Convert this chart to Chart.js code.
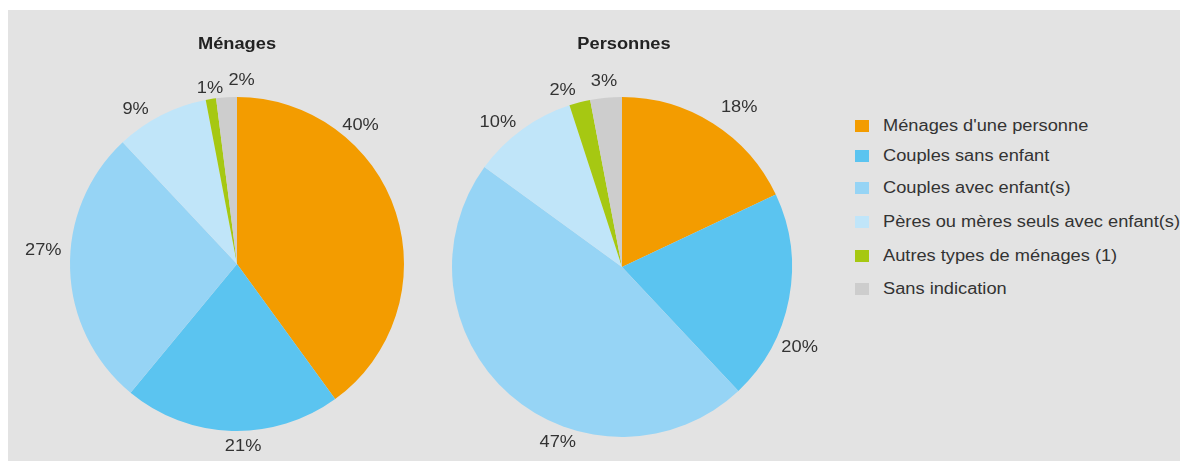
<!DOCTYPE html>
<html>
<head>
<meta charset="utf-8">
<script src="https://cdn.jsdelivr.net/npm/chart.js@4/dist/chart.umd.min.js"></script>
<style>
html,body{margin:0;padding:0;background:#ffffff;width:1180px;height:461px;overflow:hidden;font-family:"Liberation Sans",Arial,sans-serif;}
#bg{position:absolute;left:8px;top:10px;width:1172px;height:451px;background:#e3e3e3;}
canvas{position:absolute;}
.lg{position:absolute;left:855px;height:20px;white-space:nowrap;}
.lg .sw{position:absolute;left:0;top:4px;width:14px;height:12px;}
.lg .tx{position:absolute;left:28px;top:0;font-size:16px;line-height:20px;color:#333;transform:scaleX(1.14);transform-origin:left center;}
</style>
</head>
<body>
<div id="bg"></div>
<canvas id="c1" width="474" height="450" style="left:0px;top:10px;width:474px;height:450px"></canvas>
<canvas id="c2" width="400" height="450" style="left:422px;top:10px;width:400px;height:450px"></canvas>
<div id="legend"></div>
<script>
// ---- data ----
const categories = [
  "Ménages d'une personne",
  "Couples sans enfant",
  "Couples avec enfant(s)",
  "Pères ou mères seuls avec enfant(s)",
  "Autres types de ménages (1)",
  "Sans indication"
];
const menagesValues   = [40, 21, 27, 9, 1, 2];
const personnesValues = [18, 20, 47, 10, 2, 3];
const chartTitles = ["Ménages", "Personnes"];
const sliceColors = ["#f39c00", "#5bc4f0", "#96d4f5", "#c0e5f9", "#a6c812", "#cdcdcd"];

// ---- styling ----
const SX = 1.14;            // horizontal text stretch of the reference
const TEXT = "#333333";
const FONT = '"Liberation Sans", Arial, sans-serif';

function drawScaled(ctx, text, x, y) {
  ctx.save();
  ctx.translate(x, y);
  ctx.scale(SX, 1);
  ctx.fillText(text, 0, 0);
  ctx.restore();
}

const outLabels = {
  id: 'outLabels',
  afterDraw(chart, args, opts) {
    const ctx = chart.ctx;
    const meta = chart.getDatasetMeta(0);
    const vals = chart.data.datasets[0].data;
    ctx.save();
    ctx.fillStyle = TEXT;
    ctx.textAlign = 'center';
    ctx.textBaseline = 'middle';
    ctx.font = '16px ' + FONT;
    let cx0 = 0;
    meta.data.forEach((arc, i) => {
      const p = arc.getProps(['x', 'y', 'startAngle', 'endAngle', 'outerRadius'], true);
      cx0 = p.x;
      const a = (p.startAngle + p.endAngle) / 2 + (opts.shift[i] || 0) * Math.PI / 180;
      const text = vals[i] + '%';
      const w = ctx.measureText(text).width * SX;
      const h = 14;
      const d = p.outerRadius + opts.gap + (opts.extra[i] || 0);
      const ax = p.x + Math.cos(a) * d, ay = p.y + Math.sin(a) * d;
      drawScaled(ctx, text, ax + Math.cos(a) * w / 2, ay + Math.sin(a) * h / 2);
    });
    ctx.font = 'bold 16px ' + FONT;
    ctx.fillStyle = '#222';
    drawScaled(ctx, opts.title, cx0 + opts.titleDx, opts.titleY);
    ctx.restore();
  }
};

function makePie(id, values, title, padding, shift, extra, titleDx) {
  return new Chart(document.getElementById(id), {
    type: 'pie',
    data: {
      labels: categories,
      datasets: [{ data: values, backgroundColor: sliceColors, borderWidth: 0 }]
    },
    options: {
      responsive: false,
      animation: false,
      layout: { padding: padding },
      plugins: {
        legend: { display: false },
        tooltip: { enabled: false },
        outLabels: { shift: shift, extra: extra, gap: 9, title: title, titleY: 35, titleDx: titleDx }
      }
    },
    plugins: [outLabels]
  });
}

makePie('c1', menagesValues, chartTitles[0],
  { left: 70, right: 70, top: 87, bottom: 29 },
  [-32, -3.6, 6, -5.4, 0.5, 5], [-2, 0, 0, 0, -6, 0], 0);
makePie('c2', personnesValues, chartTitles[1],
  { left: 30, right: 30, top: 87, bottom: 23 },
  [2.4, 15, -22.4, -3, -3.6, 0], [8, 0, 0, 0, 0, 0], 2);

// ---- legend ----
const legendTops = [116, 146, 178, 212, 246, 279];
const lg = document.getElementById('legend');
categories.forEach((c, i) => {
  const d = document.createElement('div');
  d.className = 'lg';
  d.style.top = legendTops[i] + 'px';
  const s = document.createElement('div');
  s.className = 'sw';
  s.style.background = sliceColors[i];
  const t = document.createElement('div');
  t.className = 'tx';
  t.textContent = c;
  d.appendChild(s); d.appendChild(t);
  lg.appendChild(d);
});
</script>
</body>
</html>
